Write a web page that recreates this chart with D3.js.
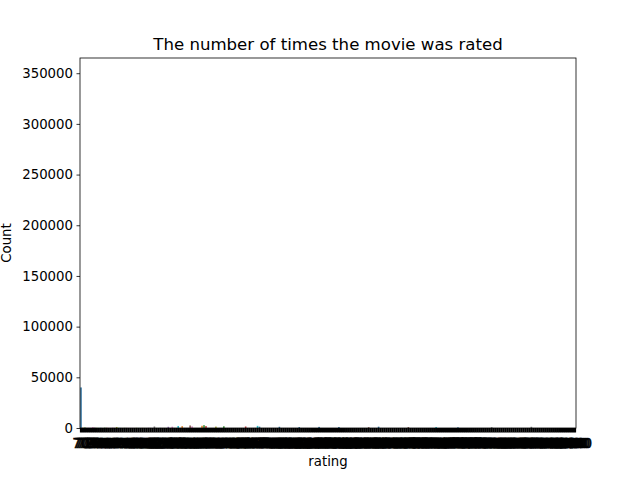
<!DOCTYPE html>
<html><head><meta charset="utf-8">
<script src="https://cdn.jsdelivr.net/npm/d3@7"></script>
<style>body{margin:0;background:#fff} text{font-family:"DejaVu Sans",sans-serif}</style>
</head><body><svg id="c" width="640" height="480"></svg>
<script>
const chartTitle = "The number of times the movie was rated";
const xLabel = "rating";
const yLabel = "Count";

const ratingValues = [
70,71,72,73,74,75,76,77,78,79,80,81,82,83,84,85,86,87,88,89,90,91,92,93,94,
95,96,97,98,99,101,103,105,107,109,112,115,118,121,124,127,131,135,139,143,147,152,157,162,167,
172,178,184,190,196,203,210,217,224,231,239,247,255,263,272,281,290,299,309,319,329,340,351,362,374,
386,398,411,424,437,451,465,480,495,511,527,543,560,577,595,613,632,651,671,691,712,733,755,778,801,
825,850,875,901,928,955,983,1012,1041,1071,1102,1134,1166,1199,1233,1268,1304,1340,1377,1415,1454,1494,1535,1577,1620,
1664,1709,1755,1802,1850,1899,1949,2000,2052,2105,2159,2214,2270,2327,2385,2444,2504,2565,2627,2690,2754,2819,2885,2952,3020,
3089,3159,3230,3302,3375,3449,3524,3600,3677,3755,3834,3914,3995,4077,4160,4244,4329,4415,4502,4590,4679,4769,4860,4952,5045,
5139,5234,5330,5427,5525,5624,5724,5825,5927,6030,6134,6239,6345,6452,6560,6669,6779,6890,7002,7115,7229,7344,7460,7577,7695,
7720,7750,7780,7810,7840,7870,7900,7930,7960,7990,8020,8050,8080,8110,8140,8170,8200,8230,8260,8290,8320,8350,8380,8410,8440,
8480,8520,8560,8600,8640,8680,8720,8760,8800,8840,8880,8920,8960,9000,9040,9080,9120,9160,9200,9240,9280,9320,9360,9400,9440
];

const counts = [
40000,310,520,180,260,140,900,410,220,130,170,60,300,240,110,80,350,150,1000,200,120,95,160,140,85,
75,130,60,210,90,55,140,70,45,180,110,65,1500,95,40,130,75,60,55,1200,35,1300,80,50,2000,
45,1800,60,35,90,2500,1600,40,70,30,55,2200,2800,1900,45,25,60,40,1400,35,50,20,1700,30,45,
25,40,20,35,15,30,45,20,1500,25,15,30,20,35,2100,1300,20,15,25,10,30,15,20,12,18,
1200,15,10,20,12,8,25,10,15,9,900,12,7,14,10,6,11,9,13,8,1100,7,10,6,9,
5,8,10,6,7,1000,5,9,4,6,8,5,7,4,6,5,3,7,4,5,800,6,3,5,4,
1300,4,3,5,2,4,6,3,4,2,5,3,4,2,3,900,2,4,3,2,1,3,2,4,3,
2,3,1,2,1000,2,3,1,2,1,2,1,3,2,1,700,1,2,1,2,1,1,2,1,1,
2,1,1,2,1,1,1,800,1,2,1,1,1,1,2,1,1,1,1,1,1,2,1,1,1,
1,1,1200,1,1,1,1,1,1,1,1,1,1,1,1,1,1,1,1,1,1,1,1,1,1
];

const yTickValues = [0,50000,100000,150000,200000,250000,300000,350000];
const yAxisMax = 365000;
const barPalette = ["#3274a1","#e1812c","#3a923a","#c03d3e","#9372b2","#845b53","#d684bd","#7f7f7f","#a9aa35","#2ebdcc"];

const labels = ratingValues.map(String);
const data = labels.map((l, i) => ({label: l, count: counts[i], idx: i}));

const L = 80, R = 576, T = 58, B = 428;
const FS = 13.3;
const svg = d3.select("#c");

const x = d3.scaleBand().domain(labels).range([L, R]).paddingInner(0.2).paddingOuter(0.1);
const y = d3.scaleLinear().domain([0, yAxisMax]).range([B, T]);

svg.append("g").selectAll("rect").data(data).join("rect")
  .attr("x", d => x(d.label))
  .attr("width", x.bandwidth())
  .attr("y", d => y(d.count))
  .attr("height", d => B - y(d.count))
  .attr("fill", d => barPalette[d.idx % barPalette.length]);

// x axis
const xg = svg.append("g").attr("transform", `translate(0,${B})`)
  .call(d3.axisBottom(x).tickSize(4.5).tickSizeOuter(0).tickPadding(3.5));
xg.select(".domain").remove();
xg.selectAll(".tick line").attr("stroke", "#000").attr("stroke-width", 2.2);
xg.selectAll(".tick text").attr("font-size", FS).attr("fill", "#000")
  .attr("stroke", "#000").attr("stroke-width", 0.7)
  .attr("font-family", "DejaVu Sans").attr("y", 10).attr("dy", "0.75em");

// y axis
const yg = svg.append("g").attr("transform", `translate(${L},0)`)
  .call(d3.axisLeft(y).tickValues(yTickValues).tickFormat(d3.format("d")).tickSize(3.5).tickPadding(3.5));
yg.select(".domain").remove();
yg.selectAll(".tick line").attr("stroke", "#000").attr("stroke-width", 0.8);
yg.selectAll(".tick text").attr("font-size", FS).attr("fill", "#000").attr("font-family", "DejaVu Sans");

// frame
svg.append("rect").attr("x", L).attr("y", T).attr("width", R - L).attr("height", B - T)
  .attr("fill", "none").attr("stroke", "#000").attr("stroke-width", 0.8);

svg.append("text").attr("x", (L + R) / 2).attr("y", 50).attr("text-anchor", "middle")
  .attr("font-size", 16.6).text(chartTitle);
svg.append("text").attr("x", (L + R) / 2).attr("y", 466).attr("text-anchor", "middle")
  .attr("font-size", FS).text(xLabel);
svg.append("text").attr("transform", `translate(10.5,${(T + B) / 2}) rotate(-90)`)
  .attr("text-anchor", "middle").attr("font-size", FS).text(yLabel);
</script></body></html>
